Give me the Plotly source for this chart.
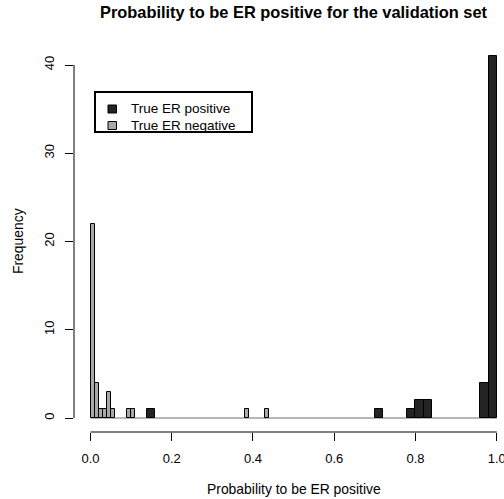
import plotly.graph_objects as go

# ---- data ----
pos_name = "True ER positive"
neg_name = "True ER negative"
pos_bin_start = [0.14, 0.70, 0.78, 0.80, 0.82, 0.96, 0.98]
pos_counts = [1, 1, 1, 2, 2, 4, 41]
pos_bin_width = 0.02
neg_bin_start = [0.00, 0.01, 0.02, 0.03, 0.04, 0.05, 0.09, 0.10, 0.38, 0.43]
neg_counts = [22, 4, 1, 1, 3, 1, 1, 1, 1, 1]
neg_bin_width = 0.01
x_ticks = [0.0, 0.2, 0.4, 0.6, 0.8, 1.0]
x_tick_labels = ["0.0", "0.2", "0.4", "0.6", "0.8", "1.0"]
y_ticks = [0, 10, 20, 30, 40]
y_tick_labels = ["0", "10", "20", "30", "40"]

title_text = "Probability to be ER positive for the validation set"
x_title = "Probability to be ER positive"
y_title = "Frequency"

dark = "#242424"
light = "#a8a8a8"

W, H = 504, 499
ML, MR, MT, MB = 74, 0, 42, 67
FONT = "Liberation Sans, Arial, Helvetica, sans-serif"

def px(x):
    return (x - ML) / (W - ML - MR)

def py(y):
    return (H - MB - y) / (H - MT - MB)

fig = go.Figure()
fig.add_trace(go.Bar(
    x=[s + pos_bin_width / 2 for s in pos_bin_start], y=pos_counts,
    width=[pos_bin_width] * len(pos_counts), name=pos_name,
    marker=dict(color=dark, line=dict(color="black", width=1)), showlegend=False))
fig.add_trace(go.Bar(
    x=[s + neg_bin_width / 2 for s in neg_bin_start], y=neg_counts,
    width=[neg_bin_width] * len(neg_counts), name=neg_name,
    marker=dict(color=light, line=dict(color="black", width=1)), showlegend=False))

shapes = []
# baseline at 0 between first and last x tick
shapes.append(dict(type="line", xref="x", yref="y", x0=x_ticks[0], x1=x_ticks[-1], y0=0, y1=0,
                   line=dict(color="#707070", width=1), layer="below"))
# R-style axis lines spanning the tick range
shapes.append(dict(type="line", xref="x", yref="paper", x0=x_ticks[0], x1=x_ticks[-1], y0=0, y1=0,
                   line=dict(color="black", width=1)))
shapes.append(dict(type="line", xref="paper", yref="y", x0=0, x1=0, y0=y_ticks[0], y1=y_ticks[-1],
                   line=dict(color="black", width=1)))
# legend box
shapes.append(dict(type="rect", xref="paper", yref="paper", x0=px(95), x1=px(252), y0=py(132), y1=py(92),
                   line=dict(color="black", width=2), fillcolor="white"))
annotations = []
for i, (nm, col) in enumerate([(pos_name, dark), (neg_name, light)]):
    cy = 109 + i * 16.5
    shapes.append(dict(type="rect", xref="paper", yref="paper", x0=px(108), x1=px(116.5), y0=py(cy + 4),
                       y1=py(cy - 4), line=dict(color="black", width=1), fillcolor=col))
    annotations.append(dict(text=nm, xref="paper", yref="paper", x=px(129), y=py(cy), xanchor="left",
                            yanchor="middle", showarrow=False, font=dict(size=13.5, color="black", family=FONT)))

annotations.append(dict(text=x_title, xref="paper", yref="paper", x=px(293.5), y=py(489),
                        xanchor="center", yanchor="middle", showarrow=False,
                        font=dict(size=13.9, color="black", family=FONT)))
annotations.append(dict(text=y_title, xref="paper", yref="paper", x=px(18), y=py(241),
                        xanchor="center", yanchor="middle", showarrow=False, textangle=-90,
                        font=dict(size=13.9, color="black", family=FONT)))
annotations.append(dict(text="<b>" + title_text + "</b>", xref="paper", yref="paper", x=px(293.5), y=py(12),
                        xanchor="center", yanchor="middle", showarrow=False,
                        font=dict(size=16.4, color="black", family=FONT)))

x_per = 406.2
y_per = 8.825
x0_px, y0_px = 90.5, 418
fig.update_layout(
    width=W, height=H, margin=dict(l=ML, r=MR, t=MT, b=MB, autoexpand=False),
    paper_bgcolor="white", plot_bgcolor="white", barmode="overlay", bargap=0,
    font=dict(family=FONT, size=13, color="black"),
    shapes=shapes, annotations=annotations,
    xaxis=dict(range=[-(x0_px - ML) / x_per, (W - MR - x0_px) / x_per],
               tickvals=x_ticks, ticktext=x_tick_labels, ticks="outside", ticklen=8,
               tickcolor="black", showgrid=False, zeroline=False, showline=False,
               automargin=False, tickfont=dict(size=13), ticklabelstandoff=6,
               ticklabeloverflow="allow"),
    yaxis=dict(range=[-(H - MB - y0_px) / y_per, (y0_px - MT) / y_per],
               tickvals=y_ticks, ticktext=y_tick_labels, ticks="outside", ticklen=8,
               tickcolor="black", showgrid=False, zeroline=False, showline=False,
               automargin=False, tickangle=-90, tickfont=dict(size=13), ticklabelstandoff=6,
               ticklabeloverflow="allow"),
)
fig.write_html("out.html", config={"displayModeBar": False},
               post_script="document.body.style.margin='0';document.body.style.overflow='hidden';")
